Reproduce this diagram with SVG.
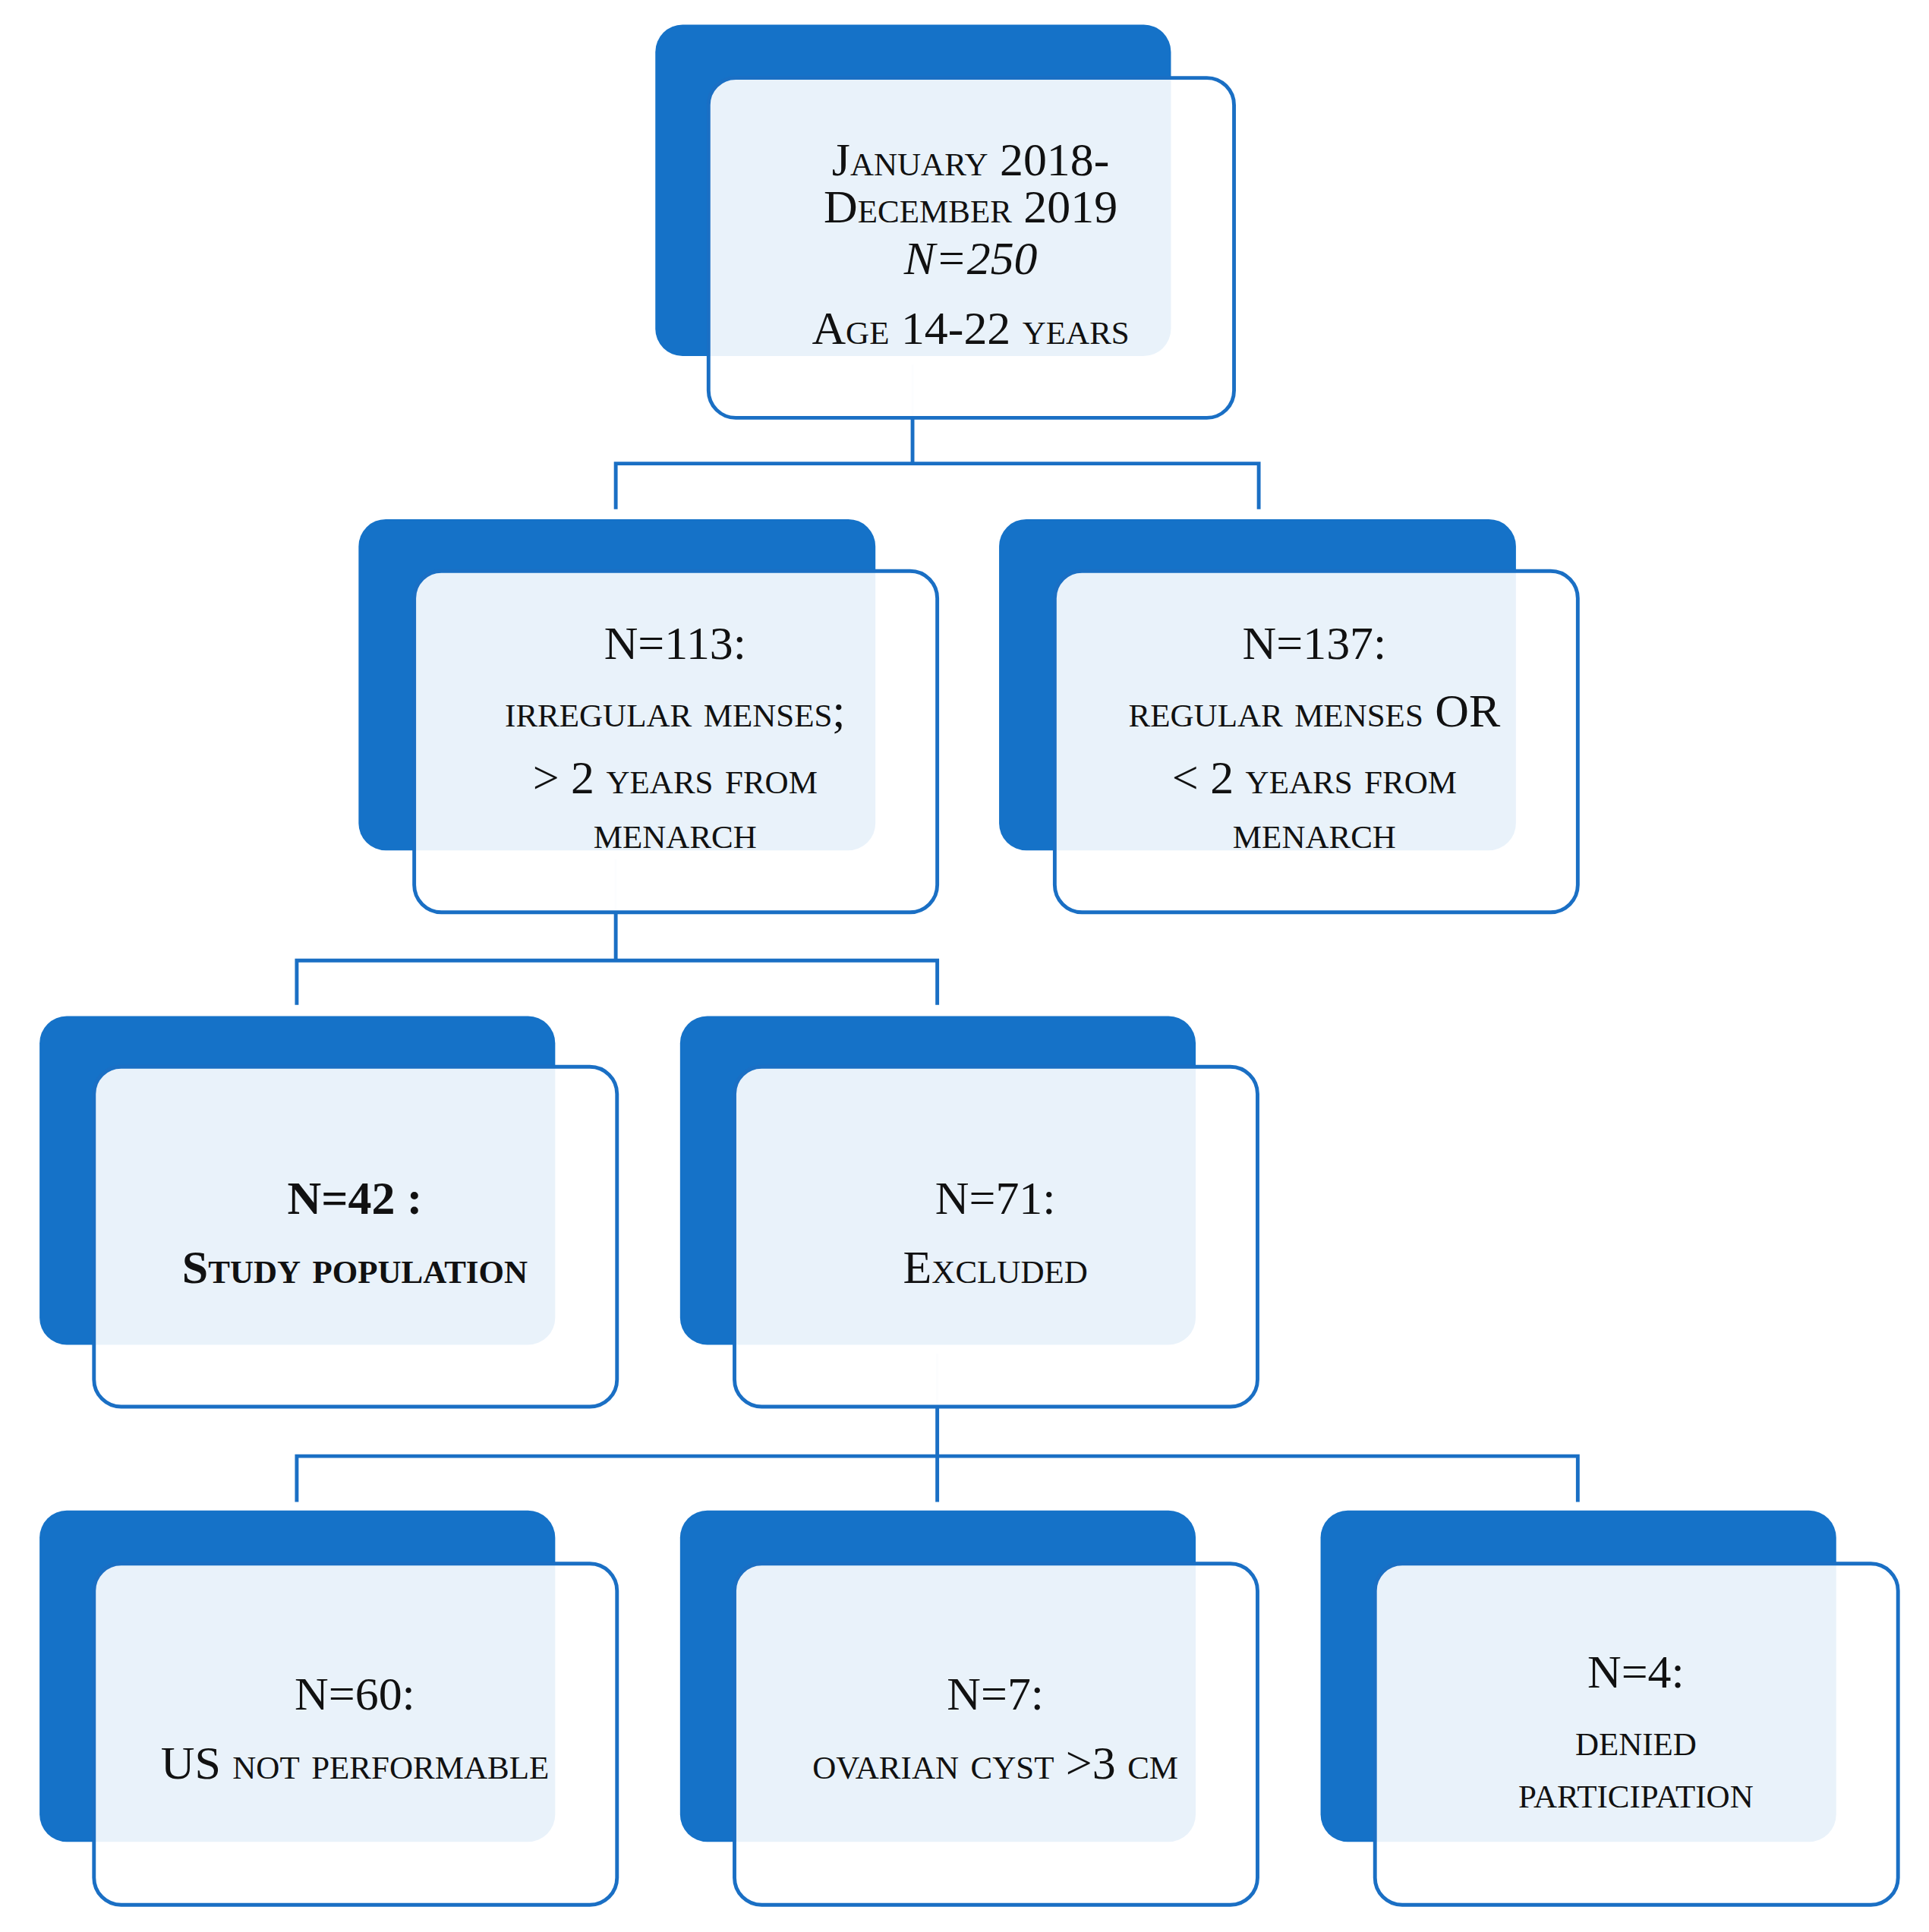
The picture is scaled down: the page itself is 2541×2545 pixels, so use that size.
<svg xmlns="http://www.w3.org/2000/svg" width="2541" height="2545" viewBox="0 0 2541 2545">
<style>
.b{fill:#1572c8}
.f{fill:#ffffff;fill-opacity:0.91;stroke:#1a6fc4;stroke-width:3}
.c{fill:none;stroke:#1a6fc4;stroke-width:3}
text{font-family:"Liberation Serif","DejaVu Serif",serif;font-variant:small-caps;font-size:38px;fill:#111;text-anchor:middle}
.bd{font-weight:bold}
</style>
<rect width="2541" height="2545" fill="#fff"/>
<g transform="scale(1.6288,1.6283)">
<g id="connectors">
<line x1="738" y1="295" x2="738" y2="338" stroke="#dde6f5" stroke-width="2"/>
<path class="c" d="M738 338V375M498 412V375H1018V412"/>
<line x1="498" y1="695" x2="498" y2="738" stroke="#dde6f5" stroke-width="2"/>
<path class="c" d="M498 738V777M240 813V777H758V813"/>
<line x1="758" y1="1095" x2="758" y2="1138" stroke="#dde6f5" stroke-width="2"/>
<path class="c" d="M758 1138V1215M240 1215V1178H1276V1215"/>
</g>
<g id="n0"><rect class="b" x="530" y="20" width="417" height="268" rx="22"/><rect class="f" x="573" y="63" width="425" height="275" rx="22"/>
<text x="785" y="142">January 2018-</text><text x="785" y="180">December 2019</text><text x="785" y="222" font-style="italic" font-variant="normal">N=250</text><text x="785" y="278">Age 14-22 years</text></g>
<g id="n1"><rect class="b" x="290" y="420" width="418" height="268" rx="22"/><rect class="f" x="335" y="462" width="423" height="276" rx="22"/>
<text x="546" y="533">N=113:</text><text x="546" y="588">irregular menses;</text><text x="546" y="642">&gt; 2 years from</text><text x="546" y="686">menarch</text></g>
<g id="n2"><rect class="b" x="808" y="420" width="418" height="268" rx="22"/><rect class="f" x="853" y="462" width="423" height="276" rx="22"/>
<text x="1063" y="533">N=137:</text><text x="1063" y="588">regular menses OR</text><text x="1063" y="642">&lt; 2 years from</text><text x="1063" y="686">menarch</text></g>
<g id="n3"><rect class="b" x="32" y="822" width="417" height="266" rx="22"/><rect class="f" x="76" y="863" width="423" height="275" rx="22"/>
<text class="bd" x="287" y="982">N=42 :</text><text class="bd" x="287" y="1038">Study population</text></g>
<g id="n4"><rect class="b" x="550" y="822" width="417" height="266" rx="22"/><rect class="f" x="594" y="863" width="423" height="275" rx="22"/>
<text x="805" y="982">N=71:</text><text x="805" y="1038">Excluded</text></g>
<g id="n5"><rect class="b" x="32" y="1222" width="417" height="268" rx="22"/><rect class="f" x="76" y="1265" width="423" height="276" rx="22"/>
<text x="287" y="1383">N=60:</text><text x="287" y="1439">US not performable</text></g>
<g id="n6"><rect class="b" x="550" y="1222" width="417" height="268" rx="22"/><rect class="f" x="594" y="1265" width="423" height="276" rx="22"/>
<text x="805" y="1383">N=7:</text><text x="805" y="1439">ovarian cyst &gt;3 cm</text></g>
<g id="n7"><rect class="b" x="1068" y="1222" width="417" height="268" rx="22"/><rect class="f" x="1112" y="1265" width="423" height="276" rx="22"/>
<text x="1323" y="1365">N=4:</text><text x="1323" y="1420">denied</text><text x="1323" y="1462">participation</text></g>
</g>
</svg>
